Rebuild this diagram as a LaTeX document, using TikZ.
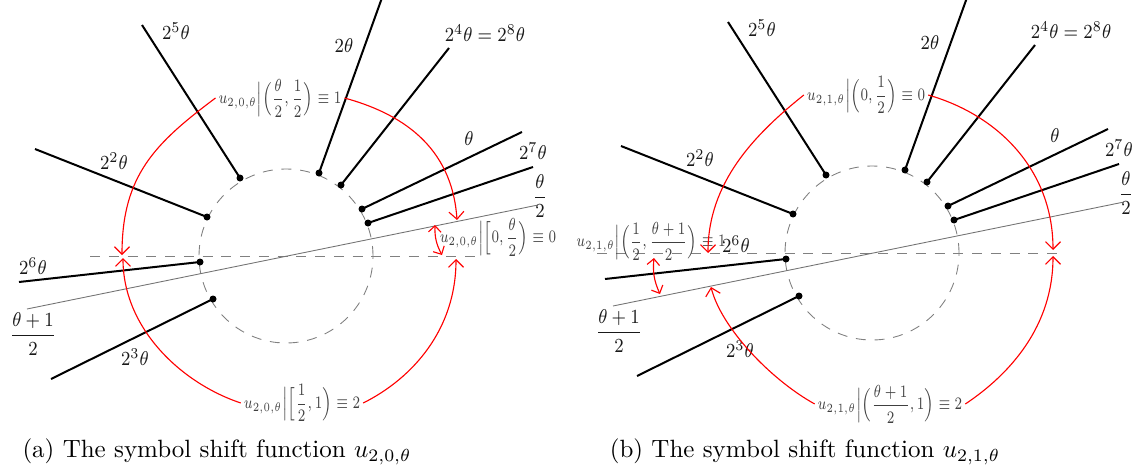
\documentclass[tikz,border=0pt]{standalone}
\usepackage{amsmath}
\usepackage{graphicx}
\usetikzlibrary{arrows.meta}
\newcommand\hsq[1]{\scalebox{0.88}[1]{#1}}
\newcommand\usq[1]{\scalebox{0.76}[1]{#1}}
\tikzset{
  x=0.4pt, y=-0.4pt,
  orbit/.style={line width=0.8pt, black},
  orbdot/.style={circle, fill=black, inner sep=0pt, minimum size=2.8pt},
  lab/.style={font=\footnotesize, text=black!90, inner sep=1pt},
  ulab/.style={font=\fontsize{7.4}{8.8}\selectfont, text=black!75, inner sep=1pt},
  guide/.style={black!55, line width=0.35pt},
  dguide/.style={black!50, line width=0.35pt, dash pattern=on 4pt off 3.5pt},
  redarr/.style={red, line width=0.45pt, -{Straight Barb[length=3pt,width=6pt]}},
  redboth/.style={red, line width=0.45pt, {Straight Barb[length=2.5pt,width=5pt]}-{Straight Barb[length=2.5pt,width=5pt]}},
  captext/.style={font=\normalsize, inner sep=0pt}
}
\newcommand\orbitpanel[4]{%
  \coordinate (#1c) at (286,256);
  \draw[dguide] (#1c) circle[radius=34.8pt];
  \coordinate (#1h1) at (#2,256);
  \coordinate (#1h2) at (478,256);
  \draw[dguide] (#1h1) -- (#1h2);
  \coordinate (#1p) at (27,309);
  \coordinate (#1q) at (538,205);
  \draw[guide] (#1p) -- (#1q);
  \node[lab] (#1lhalf) at (540,196) {\hsq{$\dfrac{\theta}{2}$}};
  \node[lab] (#1lhalfone) at (33,334) {\hsq{$\dfrac{\theta+1}{2}$}};
  % orbit points
  \node[orbdot] (#1d0) at (362,209) {};
  \node[orbdot] (#1d1) at (319,173) {};
  \node[orbdot] (#1d2) at (207,217) {};
  \node[orbdot] (#1d3) at (213,299) {};
  \node[orbdot] (#1d4) at (341,185) {};
  \node[orbdot] (#1d5) at (240,178) {};
  \node[orbdot] (#1d6) at (200,262) {};
  \node[orbdot] (#1d7) at (368,223) {};
  \coordinate (#1e0) at (522,132);
  \coordinate (#1e1) at (383,-5);
  \coordinate (#1e2) at (35,149);
  \coordinate (#1e3) at (51,379);
  \coordinate (#1e4) at (449,48);
  \coordinate (#1e5) at (142,25);
  \coordinate (#1e6) at (19,282);
  \coordinate (#1e7) at (533,167);
  \foreach \k in {0,...,7} {\draw[orbit] (#1d\k.center) -- (#1e\k);}
  \node[lab] (#1l0) at (469,139) {\hsq{$\theta$}};
  \node[lab] (#1l1) at (344,46) {\hsq{$2\theta$}};
  \node[lab] (#1l2) at (114,161) {\hsq{$2^2\theta$}};
  \node[lab] (#1l3) at (#4) {\hsq{$2^3\theta$}};
  \node[lab] (#1l4) at (485,33) {\hsq{$2^4\theta=2^8\theta$}};
  \node[lab] (#1l5) at (176,31) {\hsq{$2^5\theta$}};
  \node[lab] (#1l6) at (#3) {\hsq{$2^6\theta$}};
  \node[lab] (#1l7) at (533,151) {\hsq{$2^7\theta$}};
}
\begin{document}
\begin{tikzpicture}
\useasboundingbox (0,0) rectangle (1134,473);
% ---------- panel (a) ----------
\orbitpanel{a}{90}{33,266}{135,357}
\node[ulab] (atop) at (280,98) {\usq{$\displaystyle u_{2,0,\theta}\Big|\Big(\frac{\theta}{2},\frac{1}{2}\Big)\equiv 1$}};
\node[ulab] (abot) at (302,403) {\usq{$\displaystyle u_{2,0,\theta}\Big|\Big[\frac{1}{2},1\Big)\equiv 2$}};
\node[ulab] (asml) at (498,237) {\usq{$\displaystyle u_{2,0,\theta}\Big|\Big[0,\frac{\theta}{2}\Big)\equiv 0$}};
\coordinate (atl) at (122,255);
\coordinate (atr) at (457,220);
\coordinate (abl) at (123,258);
\coordinate (abr) at (456,259);
\coordinate (as1) at (435,225);
\coordinate (as2) at (442,255);
\draw[redarr] (atop.west) .. controls +(-60,45) and +(0,-80) .. (atl);
\draw[redarr] (atop.east) .. controls +(55,15) and +(-5,-75) .. (atr);
\draw[redarr] (abot.west) .. controls +(-60,-20) and +(0,70) .. (abl);
\draw[redarr] (abot.east) .. controls +(50,-25) and +(0,70) .. (abr);
\draw[redboth] (as1) to[bend right=15] (as2);
\node[captext] (acap) at (217,452) {(a) The symbol shift function $u_{2,0,\theta}$};
% ---------- panel (b) ----------
\begin{scope}[xshift=234.4pt, yshift=1.2pt]
\orbitpanel{b}{11}{150,247}{154,352}
\end{scope}
\node[ulab] (btop) at (866,95) {\usq{$\displaystyle u_{2,1,\theta}\Big|\Big(0,\frac{1}{2}\Big)\equiv 0$}};
\node[ulab] (bbot) at (890,404) {\usq{$\displaystyle u_{2,1,\theta}\Big|\Big(\frac{\theta+1}{2},1\Big)\equiv 2$}};
\node[ulab] (bsml) at (651,241) {\usq{$\displaystyle u_{2,1,\theta}\Big|\Big(\frac{1}{2},\frac{\theta+1}{2}\Big)\equiv 1$}};
\coordinate (btl) at (708,253);
\coordinate (btr) at (1053,250);
\coordinate (bbl) at (711,287);
\coordinate (bbr) at (1053,256);
\coordinate (bs1) at (654,258);
\coordinate (bs2) at (660,294);
\draw[redarr] (btop.west) .. controls +(-50,40) and +(0,-70) .. (btl);
\draw[redarr] (btop.east) .. controls +(70,20) and +(0,-80) .. (btr);
\draw[redarr] (bbot.west) .. controls +(-45,-25) and +(10,40) .. (bbl);
\draw[redarr] (bbot.east) .. controls +(45,-30) and +(0,70) .. (bbr);
\draw[redboth] (bs1) to[bend right=15] (bs2);
\node[captext] (bcap) at (805,452) {(b) The symbol shift function $u_{2,1,\theta}$};
\end{tikzpicture}
\end{document}
